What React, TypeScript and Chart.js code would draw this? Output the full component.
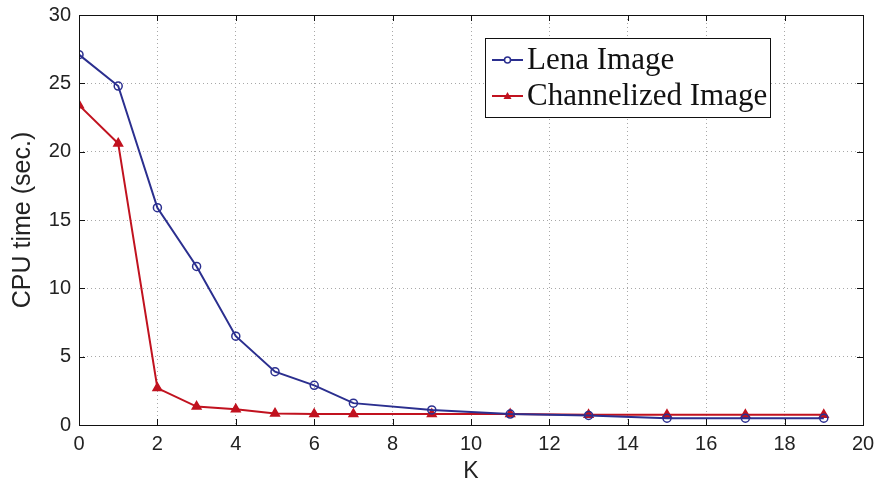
import React, { useEffect, useRef } from "react";
import { Chart, registerables } from "chart.js";

Chart.register(...registerables);

const kValues = [0, 1, 2, 3, 4, 5, 6, 7, 9, 11, 13, 15, 17, 19];
const lenaTimes = [27.1, 24.8, 15.9, 11.6, 6.5, 3.9, 2.9, 1.6, 1.1, 0.8, 0.7, 0.5, 0.5, 0.5];
const channelizedTimes = [23.4, 20.6, 2.7, 1.35, 1.15, 0.85, 0.8, 0.8, 0.8, 0.8, 0.75, 0.75, 0.75, 0.75];
const seriesNames = ["Lena Image", "Channelized Image"];
const seriesColors = ["#2b2f8f", "#c1121f"];
const xTitle = "K";
const yTitle = "CPU time (sec.)";

const framePlugin = {
  id: "frameAndLegend",
  afterDatasetsDraw(chart: any) {
    const ctx = chart.ctx;
    const { left, right, top, bottom } = chart.chartArea;
    const xs = chart.scales.x;
    const ys = chart.scales.y;
    ctx.save();
    ctx.strokeStyle = "#111";
    ctx.lineWidth = 1;
    ctx.setLineDash([]);
    ctx.strokeRect(left + 0.5, top + 0.5, right - left, bottom - top);
    const tl = 6;
    ctx.beginPath();
    xs.ticks.forEach((t: any) => {
      const px = Math.round(xs.getPixelForValue(t.value)) + 0.5;
      ctx.moveTo(px, bottom);
      ctx.lineTo(px, bottom - tl);
      ctx.moveTo(px, top);
      ctx.lineTo(px, top + tl);
    });
    ys.ticks.forEach((t: any) => {
      const py = Math.round(ys.getPixelForValue(t.value)) + 0.5;
      ctx.moveTo(left, py);
      ctx.lineTo(left + tl, py);
      ctx.moveTo(right, py);
      ctx.lineTo(right - tl, py);
    });
    ctx.stroke();

    // legend box inside plot area
    const bx = 485, by = 38, bw = 285, bh = 79;
    ctx.fillStyle = "#fff";
    ctx.fillRect(bx, by, bw, bh);
    ctx.strokeStyle = "#111";
    ctx.strokeRect(bx + 0.5, by + 0.5, bw, bh);
    ctx.font = "31px 'Liberation Serif', 'Times New Roman', serif";
    ctx.textBaseline = "middle";
    ctx.textAlign = "left";
    const rows = [60, 96];
    chart.data.datasets.forEach((ds: any, i: number) => {
      const y = rows[i];
      ctx.strokeStyle = ds.borderColor;
      ctx.lineWidth = 2;
      ctx.beginPath();
      ctx.moveTo(492, y);
      ctx.lineTo(523, y);
      ctx.stroke();
      ctx.lineWidth = 1.5;
      if (i === 0) {
        ctx.beginPath();
        ctx.arc(507.5, y, 3, 0, Math.PI * 2);
        ctx.fillStyle = "#fff";
        ctx.fill();
        ctx.stroke();
      } else {
        ctx.beginPath();
        ctx.moveTo(507.5, y - 4);
        ctx.lineTo(511.5, y + 3);
        ctx.lineTo(503.5, y + 3);
        ctx.closePath();
        ctx.fillStyle = ds.borderColor;
        ctx.fill();
      }
      ctx.fillStyle = "#111";
      ctx.fillText(ds.label, 527, y + 1);
    });
    ctx.restore();
  },
};

export default function App() {
  const ref = useRef<HTMLCanvasElement | null>(null);
  useEffect(() => {
    document.body.style.margin = "0";
    if (!ref.current) return;
    const chart = new Chart(ref.current, {
      type: "line",
      data: {
        datasets: [
          {
            label: seriesNames[0],
            data: kValues.map((k, i) => ({ x: k, y: lenaTimes[i] })),
            borderColor: seriesColors[0],
            backgroundColor: "rgba(255,255,255,0)",
            borderWidth: 2,
            pointStyle: "circle",
            pointRadius: 4,
            pointBorderWidth: 1.5,
            pointBackgroundColor: "rgba(255,255,255,0)",
            tension: 0,
          },
          {
            label: seriesNames[1],
            data: kValues.map((k, i) => ({ x: k, y: channelizedTimes[i] })),
            borderColor: seriesColors[1],
            backgroundColor: seriesColors[1],
            borderWidth: 2,
            pointStyle: "triangle",
            pointRadius: 5,
            pointBorderWidth: 1.5,
            pointBackgroundColor: seriesColors[1],
            tension: 0,
          },
        ],
      },
      options: {
        animation: false,
        responsive: false,
        maintainAspectRatio: false,
        layout: { padding: { top: 15, right: 14, left: 0, bottom: 0 } },
        plugins: { legend: { display: false }, tooltip: { enabled: false } },
        scales: {
          x: {
            type: "linear",
            min: 0,
            max: 20,
            ticks: {
              stepSize: 2,
              padding: 7,
              color: "#222",
              font: { family: "'Liberation Sans', Arial, sans-serif", size: 20 },
            },
            grid: { color: "#a8a8a8", lineWidth: 1, drawTicks: false },
            border: { display: false, dash: [1, 3] },
            title: {
              display: true,
              text: xTitle,
              color: "#222",
              font: { family: "'Liberation Sans', Arial, sans-serif", size: 23, lineHeight: 1.0 },
              padding: { top: 0, bottom: 0 },
            },
            afterFit: (s: any) => {
              s.height = 58;
              s.paddingLeft = 0;
              s.paddingRight = 0;
            },
          },
          y: {
            type: "linear",
            min: 0,
            max: 30,
            ticks: {
              stepSize: 5,
              padding: 8,
              color: "#222",
              font: { family: "'Liberation Sans', Arial, sans-serif", size: 20 },
            },
            grid: { color: "#a8a8a8", lineWidth: 1, drawTicks: false },
            border: { display: false, dash: [1, 3] },
            title: {
              display: true,
              text: yTitle,
              color: "#222",
              font: { family: "'Liberation Sans', Arial, sans-serif", size: 25 },
              padding: { top: 8, bottom: 0 },
            },
            afterFit: (s: any) => {
              s.width = 79;
              s.paddingTop = 0;
              s.paddingBottom = 0;
            },
          },
        },
      },
      plugins: [framePlugin],
    });
    return () => chart.destroy();
  }, []);
  return (
    <div style={{ width: 877, height: 483, background: "#fff" }}>
      <canvas ref={ref} width={877} height={483} style={{ display: "block" }} />
    </div>
  );
}
